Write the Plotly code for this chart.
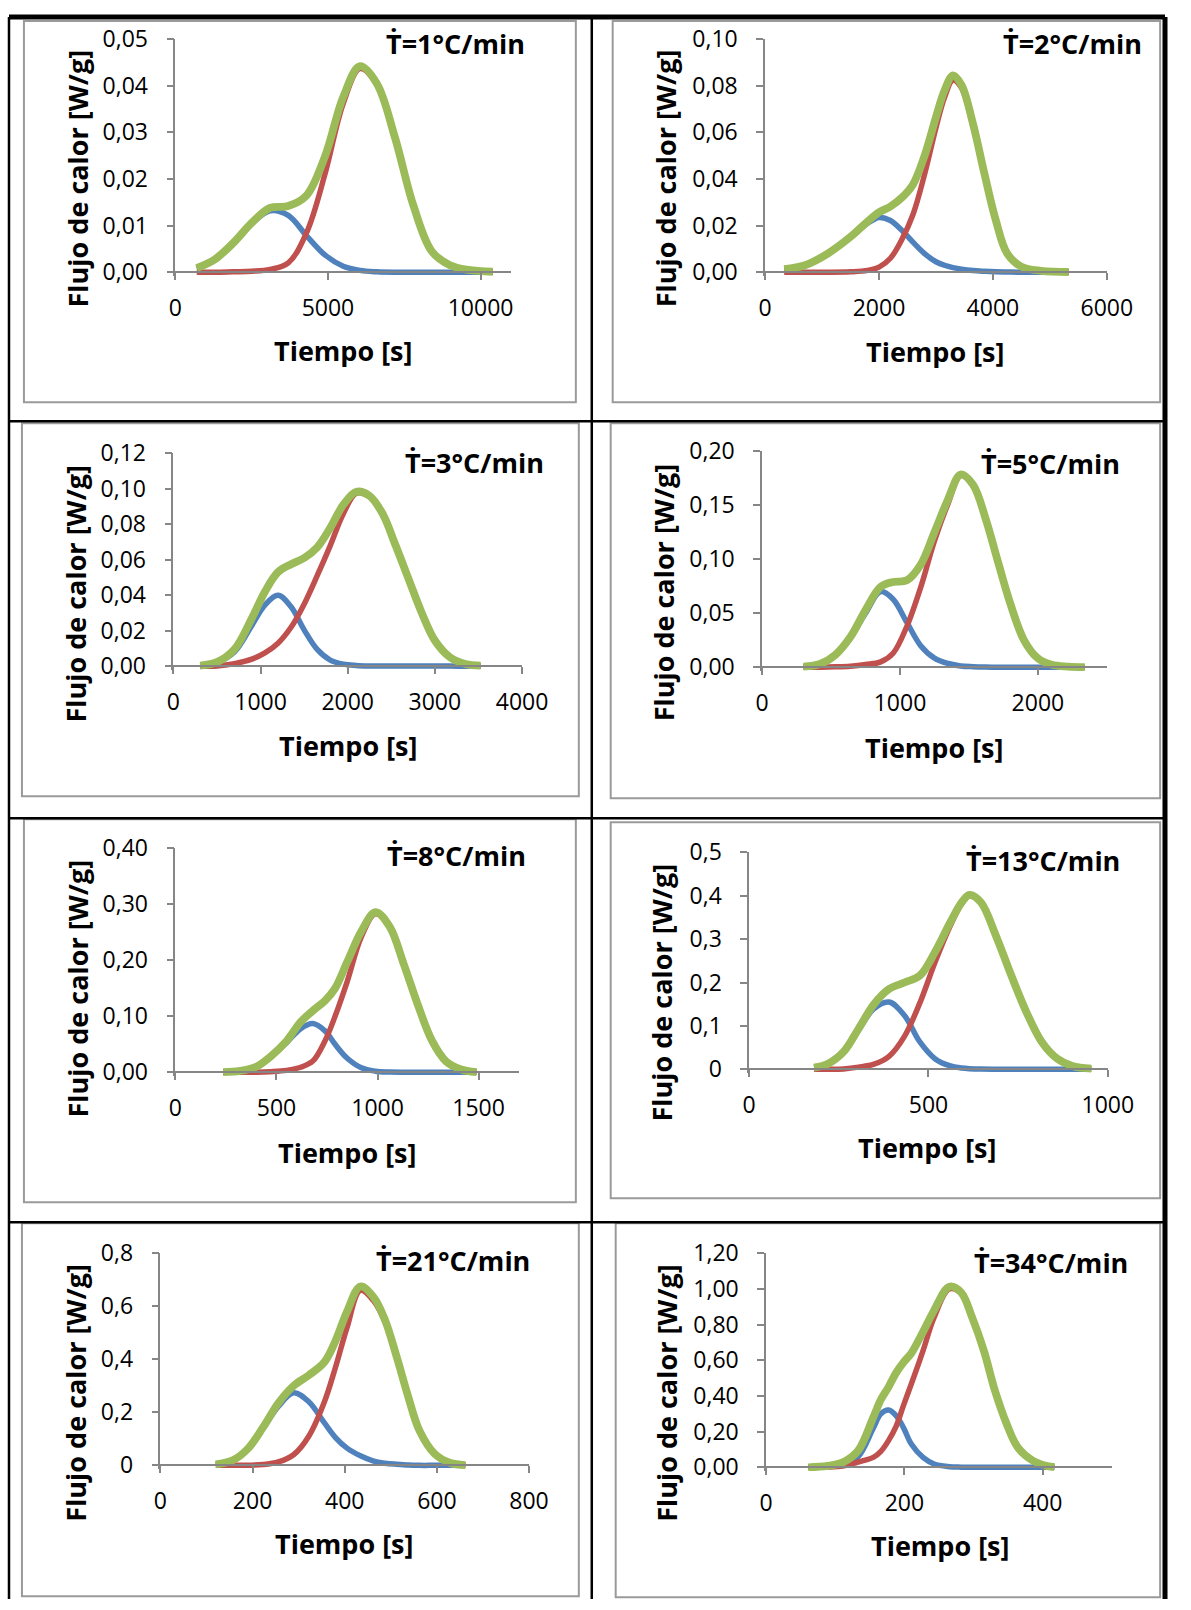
import plotly.graph_objects as go

W, H = 1191, 1610

# ---------------- DATA ----------------
rate_labels = ["\u1E6A=1°C/min", "\u1E6A=2°C/min", "\u1E6A=3°C/min", "\u1E6A=5°C/min",
               "\u1E6A=8°C/min", "\u1E6A=13°C/min", "\u1E6A=21°C/min", "\u1E6A=34°C/min"]

# 1 °C/min
t_1 = [700, 1300, 1900, 2500, 3100, 3700, 4300, 4900, 5500, 6050, 6600, 7200, 7800, 8400, 9000, 9600, 10400]
blue_1 = [0.0008, 0.0027, 0.0062, 0.0104, 0.0132, 0.0122, 0.0078, 0.0037, 0.0013, 0.0004, 0.0001, 0.0, 0.0, 0.0, 0.0, 0.0, 0.0]
red_1 = [0.0, 0.0, 0.0001, 0.0002, 0.0006, 0.0020, 0.0085, 0.0210, 0.0362, 0.0437, 0.0403, 0.0287, 0.0143, 0.0045, 0.0015, 0.0005, 0.0001]
green_1 = [0.0009, 0.0028, 0.0063, 0.0106, 0.0138, 0.0142, 0.0165, 0.0248, 0.0376, 0.0442, 0.0405, 0.0288, 0.0143, 0.0045, 0.0015, 0.0005, 0.0001]

# 2 °C/min
t_2 = [335, 700, 1100, 1500, 1800, 2000, 2200, 2400, 2600, 2800, 3000, 3150, 3300, 3450, 3650, 3850, 4050, 4250, 4500, 4850, 5330]
blue_2 = [0.0013, 0.0030, 0.0080, 0.0150, 0.0210, 0.0235, 0.0222, 0.0180, 0.0128, 0.0080, 0.0045, 0.0030, 0.0020, 0.0013, 0.0007, 0.0004, 0.0002, 0.0001, 0.0, 0.0, 0.0]
red_2 = [0.0, 0.0, 0.0, 0.0002, 0.0008, 0.0022, 0.0060, 0.0140, 0.0250, 0.0420, 0.0620, 0.0750, 0.0825, 0.0790, 0.0630, 0.0420, 0.0222, 0.0080, 0.0024, 0.0006, 0.0001]
green_2 = [0.0013, 0.0030, 0.0080, 0.0152, 0.0218, 0.0257, 0.0282, 0.0320, 0.0378, 0.0500, 0.0665, 0.0780, 0.0845, 0.0803, 0.0637, 0.0424, 0.0224, 0.0081, 0.0024, 0.0006, 0.0001]

# 3 °C/min
t_3 = [307, 500, 700, 900, 1050, 1200, 1350, 1500, 1650, 1800, 1950, 2100, 2250, 2400, 2550, 2700, 2850, 3000, 3175, 3350, 3525]
blue_3 = [0.0004, 0.0021, 0.0080, 0.0230, 0.0345, 0.0400, 0.0335, 0.0205, 0.0095, 0.0035, 0.0012, 0.0005, 0.0002, 0.0001, 0.0001, 0.0001, 0.0001, 0.0001, 0.0001, 0.0, 0.0]
red_3 = [0.0, 0.0002, 0.0015, 0.0040, 0.0075, 0.0130, 0.0220, 0.0350, 0.0510, 0.0680, 0.0860, 0.0975, 0.0955, 0.0855, 0.0675, 0.0485, 0.0295, 0.0142, 0.0048, 0.0012, 0.0003]
green_3 = [0.0004, 0.0023, 0.0095, 0.0270, 0.0420, 0.0530, 0.0575, 0.0610, 0.0670, 0.0780, 0.0910, 0.0983, 0.0960, 0.0860, 0.0680, 0.0490, 0.0300, 0.0145, 0.0050, 0.0013, 0.0004]

# 5 °C/min
t_4 = [300, 420, 530, 640, 750, 860, 950, 1050, 1150, 1250, 1350, 1440, 1530, 1620, 1710, 1800, 1900, 2000, 2100, 2220, 2340]
blue_4 = [0.0006, 0.0029, 0.0110, 0.0270, 0.0500, 0.0700, 0.0630, 0.0415, 0.0200, 0.0085, 0.0035, 0.0012, 0.0005, 0.0002, 0.0001, 0.0, 0.0, 0.0, 0.0, 0.0, 0.0]
red_4 = [0.0, 0.0001, 0.0004, 0.0010, 0.0025, 0.0050, 0.0130, 0.0380, 0.0740, 0.1170, 0.1520, 0.1775, 0.1685, 0.1378, 0.0979, 0.0590, 0.0250, 0.0083, 0.0023, 0.0006, 0.0001]
green_4 = [0.0006, 0.0030, 0.0114, 0.0280, 0.0530, 0.0745, 0.0790, 0.0805, 0.0950, 0.1250, 0.1560, 0.1785, 0.1690, 0.1380, 0.0980, 0.0590, 0.0250, 0.0083, 0.0023, 0.0006, 0.0001]

# 8 °C/min
t_5 = [236, 320, 400, 470, 550, 620, 680, 740, 790, 850, 920, 990, 1060, 1130, 1200, 1270, 1340, 1410, 1490]
blue_5 = [0.0003, 0.0024, 0.0098, 0.0270, 0.0530, 0.0780, 0.0870, 0.0740, 0.0500, 0.0250, 0.0080, 0.0020, 0.0005, 0.0001, 0.0, 0.0, 0.0, 0.0, 0.0]
red_5 = [0.0, 0.0, 0.0002, 0.0012, 0.0035, 0.0090, 0.0200, 0.0560, 0.1000, 0.1620, 0.2420, 0.2830, 0.2595, 0.1929, 0.1200, 0.0560, 0.0190, 0.0055, 0.0003]
green_5 = [0.0003, 0.0024, 0.0100, 0.0280, 0.0560, 0.0900, 0.1100, 0.1280, 0.1500, 0.1970, 0.2520, 0.2860, 0.2600, 0.1930, 0.1200, 0.0560, 0.0190, 0.0055, 0.0003]

# 13 °C/min
t_6 = [181, 220, 263, 305, 348, 390, 433, 476, 518, 561, 593, 614, 646, 688, 731, 773, 816, 859, 901, 954]
blue_6 = [0.0040, 0.0128, 0.0390, 0.0900, 0.1400, 0.1550, 0.1240, 0.0630, 0.0245, 0.0077, 0.0030, 0.0015, 0.0005, 0.0001, 0.0, 0.0, 0.0, 0.0, 0.0, 0.0]
red_6 = [0.0, 0.0002, 0.0010, 0.0050, 0.0120, 0.0300, 0.0760, 0.1530, 0.2460, 0.3310, 0.3820, 0.4000, 0.3840, 0.3078, 0.2160, 0.1320, 0.0630, 0.0245, 0.0077, 0.0015]
green_6 = [0.0040, 0.0130, 0.0400, 0.0935, 0.1500, 0.1850, 0.2000, 0.2160, 0.2700, 0.3390, 0.3850, 0.4020, 0.3850, 0.3080, 0.2160, 0.1320, 0.0630, 0.0245, 0.0077, 0.0015]

# 21 °C/min
t_7 = [120, 157, 190, 223, 256, 289, 322, 356, 380, 405, 434, 463, 488, 513, 538, 562, 595, 628, 662]
blue_7 = [0.004, 0.019, 0.062, 0.140, 0.222, 0.274, 0.240, 0.160, 0.105, 0.065, 0.036, 0.016, 0.008, 0.004, 0.001, 0.0, 0.0, 0.0, 0.0]
red_7 = [0.0, 0.0, 0.0005, 0.003, 0.013, 0.040, 0.110, 0.240, 0.370, 0.520, 0.660, 0.620, 0.538, 0.404, 0.257, 0.132, 0.044, 0.010, 0.001]
green_7 = [0.004, 0.019, 0.063, 0.144, 0.235, 0.300, 0.340, 0.390, 0.470, 0.580, 0.675, 0.634, 0.546, 0.408, 0.258, 0.132, 0.044, 0.010, 0.001]

# 34 °C/min
t_8 = [61, 89, 111, 133, 155, 166, 177, 188, 199, 210, 227, 243, 265, 282, 298, 315, 331, 348, 364, 386, 403, 417]
blue_8 = [0.0, 0.006, 0.020, 0.060, 0.220, 0.300, 0.321, 0.290, 0.220, 0.131, 0.056, 0.019, 0.004, 0.001, 0.0, 0.0, 0.0, 0.0, 0.0, 0.0, 0.0, 0.0]
red_8 = [0.0, 0.002, 0.008, 0.030, 0.056, 0.090, 0.150, 0.230, 0.350, 0.467, 0.654, 0.841, 1.000, 0.975, 0.838, 0.652, 0.429, 0.243, 0.112, 0.037, 0.011, 0.001]
green_8 = [0.0, 0.008, 0.028, 0.093, 0.280, 0.380, 0.450, 0.530, 0.590, 0.640, 0.760, 0.880, 1.013, 0.981, 0.841, 0.654, 0.430, 0.243, 0.112, 0.037, 0.011, 0.001]

# axis maxima and tick labels
x_max = [11000, 6000, 4000, 2500, 1700, 1000, 800, 500]
y_max = [0.05, 0.10, 0.12, 0.20, 0.40, 0.5, 0.8, 1.2]
x_ticks = [[0, 5000, 10000], [0, 2000, 4000, 6000], [0, 1000, 2000, 3000, 4000], [0, 1000, 2000],
           [0, 500, 1000, 1500], [0, 500, 1000], [0, 200, 400, 600, 800], [0, 200, 400]]
x_tick_text = [["0", "5000", "10000"], ["0", "2000", "4000", "6000"], ["0", "1000", "2000", "3000", "4000"],
               ["0", "1000", "2000"], ["0", "500", "1000", "1500"], ["0", "500", "1000"],
               ["0", "200", "400", "600", "800"], ["0", "200", "400"]]
y_ticks = [[0, 0.01, 0.02, 0.03, 0.04, 0.05], [0, 0.02, 0.04, 0.06, 0.08, 0.10],
           [0, 0.02, 0.04, 0.06, 0.08, 0.10, 0.12], [0, 0.05, 0.10, 0.15, 0.20],
           [0, 0.10, 0.20, 0.30, 0.40], [0, 0.1, 0.2, 0.3, 0.4, 0.5],
           [0, 0.2, 0.4, 0.6, 0.8], [0, 0.2, 0.4, 0.6, 0.8, 1.0, 1.2]]
y_tick_text = [["0,00", "0,01", "0,02", "0,03", "0,04", "0,05"],
               ["0,00", "0,02", "0,04", "0,06", "0,08", "0,10"],
               ["0,00", "0,02", "0,04", "0,06", "0,08", "0,10", "0,12"],
               ["0,00", "0,05", "0,10", "0,15", "0,20"],
               ["0,00", "0,10", "0,20", "0,30", "0,40"],
               ["0", "0,1", "0,2", "0,3", "0,4", "0,5"],
               ["0", "0,2", "0,4", "0,6", "0,8"],
               ["0,00", "0,20", "0,40", "0,60", "0,80", "1,00", "1,20"]]
x_title = "Tiempo [s]"
y_title = "Flujo de calor [W/g]"

series_t = [t_1, t_2, t_3, t_4, t_5, t_6, t_7, t_8]
series_blue = [blue_1, blue_2, blue_3, blue_4, blue_5, blue_6, blue_7, blue_8]
series_red = [red_1, red_2, red_3, red_4, red_5, red_6, red_7, red_8]
series_green = [green_1, green_2, green_3, green_4, green_5, green_6, green_7, green_8]

# ---------------- LAYOUT GEOMETRY (target pixels in the final picture) ----------------
# axis left, axis right, zero line y, top tick y
geo_axes = [(172, 509, 272, 39), (764, 1107, 272, 39), (170, 520, 666, 453), (761, 1107, 667, 451),
            (172, 517, 1072, 848), (748, 1108, 1069, 852), (157, 527, 1465, 1253), (765, 1112, 1467, 1253)]
geo_frames = [(20, 10, 574, 402), (611, 9, 1164, 402), (18, 423, 577, 796), (609, 423, 1165, 798),
              (20, 819, 574, 1202), (609, 822, 1165, 1198), (18, 1223, 577, 1596), (614, 1223, 1163, 1597)]
geo_xtitle = [(340, 350), (935, 351), (345, 745), (934, 747), (344, 1152), (927, 1147), (341, 1543), (939.5, 1545)]
geo_ytitle = [(73.5, 178), (663.5, 178), (71.6, 593), (661.6, 592), (73.5, 988), (659.7, 992), (71.6, 1392), (665.5, 1392.5)]
geo_ptitle = [(381, 43), (1001, 43), (401, 462), (979, 463), (382, 855), (964, 860), (371, 1260), (972, 1262)]

# the page is photographed with an offset/scale: picture = offset + scale * figure
SX, OX = 0.976, 3.0
SY, OY = 0.9825, 16.8

BLUE, RED, GREEN = "#4F81BD", "#C0504D", "#9BBB59"
AXIS_GRAY = "#868686"
FONT = "Open Sans, DejaVu Sans, sans-serif"


def px(x):
    return ((x - OX) / SX) / W


def py(y):
    return 1 - ((y - OY) / SY) / H


def clamp(v, lo=0.0, hi=1.0):
    return min(max(v, lo), hi)


fig = go.Figure()
layout = dict(width=W, height=H, margin=dict(l=0, r=0, t=0, b=0, pad=0),
              paper_bgcolor="white", plot_bgcolor="rgba(0,0,0,0)", showlegend=False,
              font=dict(family=FONT, color="black"))
shapes = []
annotations = []
PAD = 4  # px of plot area below the zero line so thick lines are not clipped

for i in range(8):
    n = "" if i == 0 else str(i + 1)
    xid, yid = "x" + n, "y" + n
    x0, x1, yb, yt = geo_axes[i]
    for vals, col, wdt in ((series_blue[i], BLUE, 5.5), (series_red[i], RED, 5.5), (series_green[i], GREEN, 7.8)):
        fig.add_trace(go.Scatter(x=series_t[i], y=vals, mode="lines",
                                 line=dict(color=col, width=wdt, shape="spline", smoothing=1.0),
                                 xaxis=xid, yaxis=yid, hoverinfo="skip", showlegend=False))
    ypad = PAD * y_max[i] / (yb - yt)
    layout["xaxis" + n] = dict(domain=[px(x0), px(x1)], range=[0, x_max[i]], anchor="free", position=py(yb),
                               tickvals=x_ticks[i], ticktext=x_tick_text[i], ticks="outside", ticklen=7,
                               tickwidth=1.5, tickcolor=AXIS_GRAY, showline=True, linecolor=AXIS_GRAY,
                               linewidth=1.5, showgrid=False, zeroline=False, ticklabelstandoff=8,
                               tickfont=dict(size=23, family=FONT, color="black"), fixedrange=True)
    layout["yaxis" + n] = dict(domain=[py(yb + PAD), py(yt)], range=[-ypad, y_max[i]], anchor=xid,
                               tickvals=y_ticks[i], ticktext=y_tick_text[i], ticks="outside", ticklen=7,
                               tickwidth=1.5, tickcolor=AXIS_GRAY, showline=True, linecolor=AXIS_GRAY,
                               linewidth=1.5, showgrid=False, zeroline=False, ticklabelstandoff=14,
                               tickfont=dict(size=23, family=FONT, color="black"), fixedrange=True)
    fx0, fy0, fx1, fy1 = geo_frames[i]
    shapes.append(dict(type="rect", xref="paper", yref="paper",
                       x0=clamp(px(fx0), 3.0 / W), x1=clamp(px(fx1), 0.0, 1 - 5.0 / W),
                       y0=clamp(py(fy1), 1.0 / H), y1=clamp(py(fy0), 0.0, 1 - 4.0 / H),
                       line=dict(color="#9a9a9a", width=2), fillcolor="rgba(0,0,0,0)", layer="below"))
    annotations.append(dict(text="<b>" + x_title + "</b>", xref="paper", yref="paper",
                            x=px(geo_xtitle[i][0]), y=py(geo_xtitle[i][1]), xanchor="center", yanchor="middle",
                            showarrow=False, font=dict(size=27, family=FONT, color="black")))
    annotations.append(dict(text="<b>" + y_title + "</b>", xref="paper", yref="paper", textangle=-90,
                            x=px(geo_ytitle[i][0]), y=py(geo_ytitle[i][1]), xanchor="center", yanchor="middle",
                            showarrow=False, font=dict(size=27, family=FONT, color="black")))
    annotations.append(dict(text="<b>" + rate_labels[i] + "</b>", xref="paper", yref="paper",
                            x=px(geo_ptitle[i][0]), y=py(geo_ptitle[i][1]), xanchor="left", yanchor="middle",
                            showarrow=False, font=dict(size=27, family=FONT, color="black")))

# table grid (black lines)
table_left, table_right, table_top, table_bottom = 5, 1187, 7, 1610
col_div = 590
row_divs = [421, 818, 1222]
black = dict(color="black", width=2.5)
edge_black = dict(color="black", width=5)
xl, xr = clamp(px(table_left), 1.3 / W), clamp(px(table_right))
yt_, yb_ = clamp(py(table_top)), clamp(py(table_bottom))
shapes.append(dict(type="line", xref="paper", yref="paper", x0=xl, x1=xl, y0=yb_, y1=yt_, line=black))
shapes.append(dict(type="line", xref="paper", yref="paper", x0=xr, x1=xr, y0=yb_, y1=yt_, line=edge_black))
shapes.append(dict(type="line", xref="paper", yref="paper", x0=px(col_div), x1=px(col_div),
                   y0=yb_, y1=yt_, line=black))
shapes.append(dict(type="line", xref="paper", yref="paper", x0=xl, x1=xr, y0=yt_, y1=yt_, line=edge_black))
for yy in row_divs:
    shapes.append(dict(type="line", xref="paper", yref="paper", x0=xl, x1=xr,
                       y0=py(yy), y1=py(yy), line=black))

layout["shapes"] = shapes
layout["annotations"] = annotations
fig.update_layout(**layout)
fig.write_html("out.html")
